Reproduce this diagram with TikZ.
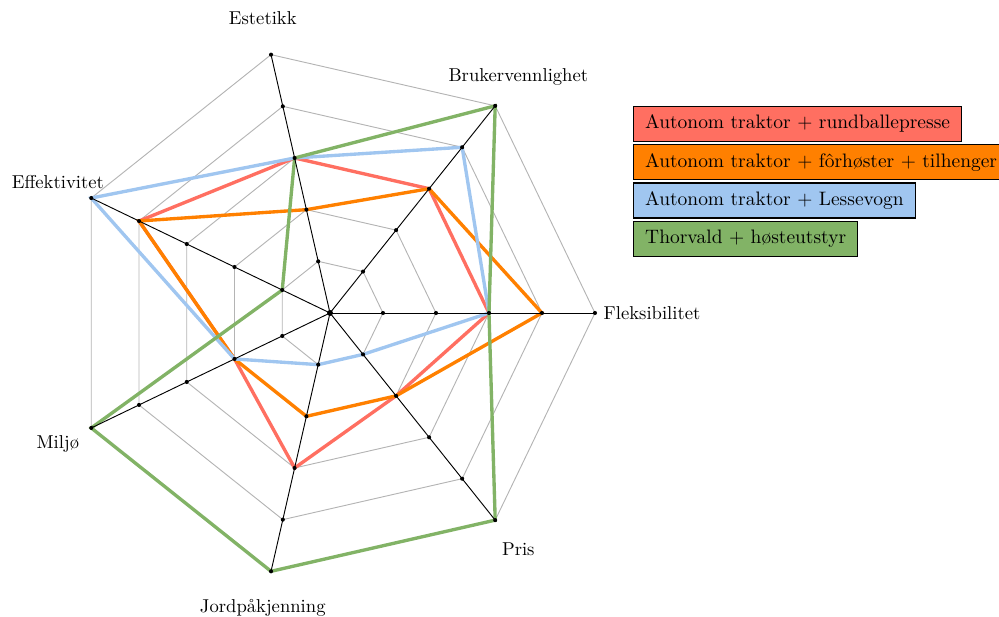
\documentclass[tikz,border=0pt]{standalone}
\usetikzlibrary{positioning}
\definecolor{cRed}{HTML}{FF6F61}
\definecolor{cOrange}{HTML}{FF8000}
\definecolor{cBlue}{HTML}{A0C6F0}
\definecolor{cGreen}{HTML}{82B366}
\definecolor{gridgray}{HTML}{B4B4B4}
\tikzset{
  gridline/.style={draw=gridgray, line width=0.5pt},
  axisline/.style={draw=black, line width=0.5pt},
  series/.style={line width=1.8pt, line join=miter},
  axisdot/.style={fill=black},
  axislabel/.style={font=\normalsize, inner sep=2pt},
  legendbox/.style={draw=black, line width=0.6pt, anchor=north west,
    font=\fontsize{10.45}{12.5}\selectfont,
    minimum height=0.66cm, inner xsep=0.22cm, inner ysep=0pt, text height=1.6ex, text depth=0.4ex}
}
\begin{document}
\begin{tikzpicture}
\useasboundingbox (-6.227,-5.736) rectangle (12.624,5.906);

% named points on every axis (k) and level (l)
\foreach \k in {0,...,6}{
  \foreach \l in {1,...,5}{
    \coordinate (p\k-\l) at ({\k*360/7}:\l);
  }
}
\coordinate (c) at (0,0);

% grid heptagons
\foreach \l in {1,...,5}{
  \draw[gridline] (p0-\l) -- (p1-\l) -- (p2-\l) -- (p3-\l) -- (p4-\l) -- (p5-\l) -- (p6-\l) -- cycle;
}

% data series
\draw[series, cRed] (p0-3) -- (p1-3) -- (p2-3) -- (p3-4) -- (p4-2) -- (p5-3) -- (p6-2) -- cycle;
\draw[series, cOrange] (p0-4) -- (p1-3) -- (p2-2) -- (p3-4) -- (p4-2) -- (p5-2) -- (p6-2) -- cycle;
\draw[series, cBlue] (p0-3) -- (p1-4) -- (p2-3) -- (p3-5) -- (p4-2) -- (p5-1) -- (p6-1) -- cycle;
\draw[series, cGreen] (p0-3) -- (p1-5) -- (p2-3) -- (p3-1) -- (p4-5) -- (p5-5) -- (p6-5) -- cycle;

% axes with level marks
\foreach \k in {0,...,6}{
  \draw[axisline] (c) -- (p\k-5);
  \foreach \l in {1,...,5}{
    \fill[axisdot] (p\k-\l) circle (1.1pt);
  }
}
\fill[axisdot] (c) circle (1.6pt);

% axis labels
\node[axislabel, right=2.5pt of p0-5] (l0) {Fleksibilitet};
\node[axislabel] (l1) at ({1*360/7}:5.7) {Brukervennlighet};
\node[axislabel] (l2) at ({2*360/7}:5.7) {Estetikk};
\node[axislabel] (l3) at ({3*360/7}:5.7) {Effektivitet};
\node[axislabel] (l4) at ({4*360/7}:5.7) {Miljø};
\node[axislabel] (l5) at ({5*360/7}:5.7) {Jordpåkjenning};
\node[axislabel] (l6) at ({6*360/7}:5.7) {Pris};

% legend
\node[legendbox, fill=cRed] (g1) at (5.718,3.906) {Autonom traktor + rundballepresse};
\node[legendbox, fill=cOrange] (g2) at ([yshift=-0.04cm]g1.south west) {Autonom traktor + fôrhøster + tilhenger};
\node[legendbox, fill=cBlue] (g3) at ([yshift=-0.04cm]g2.south west) {Autonom traktor + Lessevogn};
\node[legendbox, fill=cGreen] (g4) at ([yshift=-0.04cm]g3.south west) {Thorvald + høsteutstyr};
\end{tikzpicture}
\end{document}
